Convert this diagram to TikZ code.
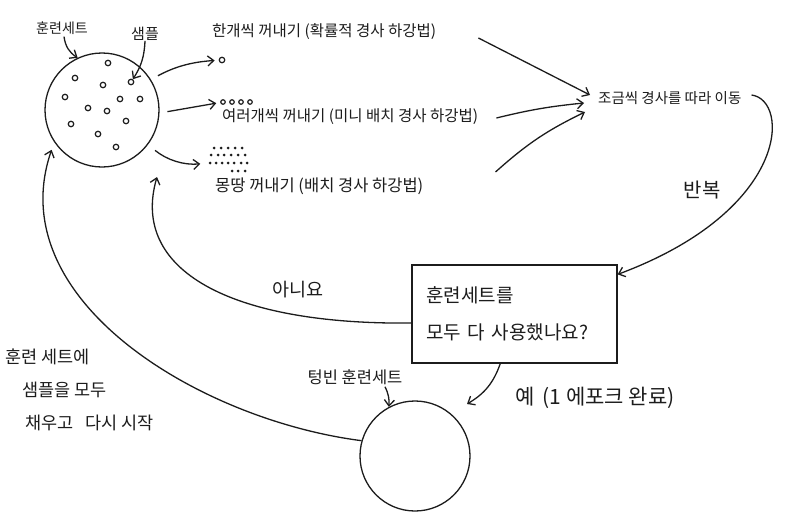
\documentclass[tikz,border=0pt]{standalone}
\usepackage{fontspec}
\newfontfamily\kr{Noto Sans CJK KR}
\usetikzlibrary{arrows.meta,positioning}
\definecolor{ink}{HTML}{1C1C1C}
\tikzset{
  % ---- sets and samples ------------------------------------------
  setcirc/.style = {circle, draw=ink, line width=1.3pt, inner sep=0pt,
                    minimum size=114pt},
  pt/.style      = {circle, draw=ink, line width=1.2pt, inner sep=0pt,
                    minimum size=5.5pt},
  bdot/.style    = {circle, fill=ink, inner sep=0pt, minimum size=3pt},
  % ---- connectors ------------------------------------------------
  arr/.style     = {draw=ink, line width=1.3pt,
                    -{Straight Barb[length=6pt,width=10pt]}},
  % ---- texts -----------------------------------------------------
  hand/.style    = {font=\fontsize{15.5}{18}\selectfont\kr, text=ink,
                    inner sep=0pt},
  tag/.style     = {hand, font=\fontsize{14}{17}\selectfont\kr},
  big/.style     = {hand, font=\fontsize{17.5}{33}\selectfont\kr},
  qbox/.style    = {draw=ink, line width=1.3pt, minimum width=205pt,
                    minimum height=98pt, text width=176pt, align=left,
                    font=\fontsize{19}{37}\selectfont\kr, text=ink},
}
\begin{document}
\begin{tikzpicture}[x=1pt,y=-1pt]
  \useasboundingbox (0,0) rectangle (786,514);
  % training set with its samples
  \node[setcirc] (train) at (102,110) {};
  \foreach \px/\py [count=\i] in {108/63,75/78,103/85,65/97,120/99,140/99,
      88/108,107/111,126/121,71/124,98/134,116/147}
    \node[pt] (d\i) at (\px,\py) {};
  \node[pt] (smp) at (131,82) {};
  \node[tag] (trainlab) at (62,28) {훈련세트};
  \node[tag, font=\fontsize{15}{18}\selectfont\kr] (smplab) at (145,34) {샘플};
  \draw[arr] (trainlab.south) ++(2,2) to[bend right=25] (train.115);
  \draw[arr] (smplab.south) to[bend left=15] (smp);
  % ways of drawing samples
  \node[pt] (one) at (222,60) {};
  \foreach \px [count=\i] in {223,232,241,250}
    \node[pt, minimum size=4.5pt] (mb\i) at (\px,102) {};
  \foreach \px/\py [count=\i] in {214/148,221/148,228/148,235/148,242/148,
      211/155,218/155,224/155,231/155,238/155,245/155,
      210/163,216/163,222/163,228/163,234/163,241/163,247/163,
      232/171,238/171,245/171}
    \node[bdot] (bd\i) at (\px,\py) {};
  \node[hand, anchor=west] (sgd) at (212,32) {한개씩 꺼내기 (확률적 경사 하강법)};
  \node[hand, anchor=west] (mini) at (222,117) {여러개씩 꺼내기 (미니 배치 경사 하강법)};
  \node[hand, font=\fontsize{16.5}{19}\selectfont\kr, anchor=west] (batch) at (215,186) {몽땅 꺼내기 (배치 경사 하강법)};
  \draw[arr, shorten <=8pt, shorten >=4pt] (train.32) to[bend left=12] (one);
  \draw[arr, shorten <=8pt, shorten >=4pt] (train.-3) to (mb1);
  \draw[arr, shorten <=9pt, shorten >=8pt] (train.-37) to[bend right=22] (bd12);
  % update step
  \node[hand, font=\fontsize{14.5}{17}\selectfont\kr, anchor=west] (move) at (598,98) {조금씩 경사를 따라 이동};
  \draw[arr] ([shift={(42,6)}]sgd.east) -- ([shift={(-8,-3)}]move.west);
  \draw[arr] ([shift={(18,1)}]mini.east) to[bend left=4] ([shift={(-14,5)}]move.west);
  \draw[arr] ([shift={(72,-14)}]batch.east) to[bend left=8] ([shift={(-13,14)}]move.west);
  % check box
  \node[qbox] (chk) at (514.5,314) {훈련세트를\\모두 다 사용했나요?};
  \node[big, font=\fontsize{20}{24}\selectfont\kr] (rep) at (702,190) {반복};
  \draw[arr] ([shift={(10,-3)}]move.east) .. controls (790,100) and (790,210) .. (chk.21);
  % no: draw again
  \node[big, font=\fontsize{18.5}{22}\selectfont\kr] (no) at (298,290) {아니요};
  \coordinate (noend) at (157,177);
  \draw[arr] (chk.185) .. controls (230,325) and (130,270) .. (noend);
  % yes: one epoch done
  \node[setcirc, minimum size=110pt] (empty) at (415,456) {};
  \coordinate (yesend) at (467,404);
  \node[big, font=\fontsize{21}{24}\selectfont\kr] (yes) at (595,398) {예 \,(1 에포크 완료)};
  \node[tag, font=\fontsize{16.5}{19}\selectfont\kr] (emptylab) at (355,377) {텅빈 훈련세트};
  \draw[arr] (chk.-106) to[bend left=20] (yesend);
  \draw[arr] ([xshift=30pt]emptylab.south) ++(0,2) to[bend left=15] (empty.118);
  % refill and restart
  \node[big, align=left, anchor=north west] (refill) at (5,349)
    {훈련 세트에\\\hspace{17pt}샘플을 모두\\\hspace{20pt}채우고 \ \ 다시 시작};
  \draw[arr, shorten >=8pt] (empty.164) .. controls (200,420) and (0,300) .. (train.-146);
\end{tikzpicture}
\end{document}
